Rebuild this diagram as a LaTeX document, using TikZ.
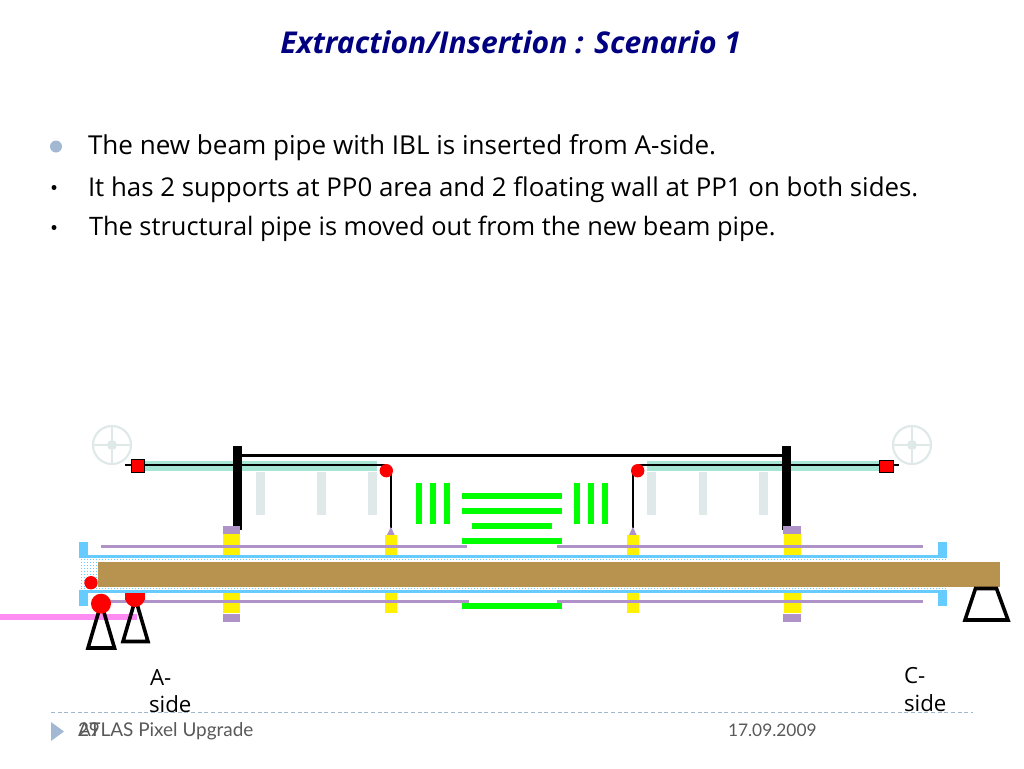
\documentclass[tikz,border=0pt]{standalone}
\usepackage{fontspec}
\setmainfont{Open Sans}
\newfontfamily\footfont{Lato}
\definecolor{navyt}{HTML}{000080}
\definecolor{wheelc}{HTML}{DFE9E9}
\definecolor{tealc}{HTML}{A6E4D3}
\definecolor{purp}{HTML}{AE92C8}
\definecolor{skyc}{HTML}{66CCFF}
\definecolor{brownc}{HTML}{B8924F}
\definecolor{pinkc}{HTML}{FF8CF2}
\definecolor{bulc}{HTML}{A3B9D3}
\definecolor{footc}{HTML}{595959}
\definecolor{dashc}{HTML}{A0B6CC}
\tikzset{
 x=0.75pt,y=-0.75pt,
 body/.style={inner sep=0,outer sep=0,anchor=base west,text=black},
 side/.style={inner sep=0,outer sep=0,anchor=base west,text=black,font=\fontsize{16.7}{18}\selectfont},
 foot/.style={inner sep=0,outer sep=0,anchor=base west,font=\footfont\fontsize{14.2}{16}\selectfont,text=footc},
 stand/.style={draw=black,line width=2.7pt,fill=none,miter limit=10},
 wheelline/.style={draw=wheelc,line width=1.6pt},
 dotrow/.style={draw=skyc,line width=0.75pt,dash pattern=on 0.75pt off 1.5pt}
}
\newcommand{\rectpx}[5]{\fill[#1] (#2,#3) rectangle (#4,#5);}
\begin{document}
\begin{tikzpicture}
\useasboundingbox (0,0) rectangle (1024,768);
\fill[white] (0,0) rectangle (1024,768);
% title and bullets
\node[inner sep=0,anchor=base west,text=navyt,font=\bfseries\itshape\fontsize{22.55}{24}\selectfont] (title) at (280,53) {Extraction/Insertion : Scenario 1};
\fill[bulc] (56,146.5) circle (6);
\fill[black] (54,187.5) circle (2.5);
\fill[black] (54,227.5) circle (2.5);
\node[body,font=\fontsize{19.55}{21}\selectfont] (b1) at (88,154) {The new beam pipe with IBL is inserted from A-side.};
\node[body,font=\fontsize{19.4}{21}\selectfont] (b2) at (88,196) {It has 2 supports at PP0 area and 2 floating wall at PP1 on both sides.};
\node[body,font=\fontsize{19.05}{21}\selectfont] (b3) at (89,235) {The structural pipe is moved out from the new beam pipe.};
% wheels
\foreach \cx in {112,912}{
 \draw[wheelline] (\cx,445) circle (19);
 \draw[wheelline] (\cx-19,445) -- (\cx+19,445);
 \draw[wheelline] (\cx,426) -- (\cx,464);
 \fill[wheelc] (\cx,445) circle (5);
}
% grey supports
\foreach \xa/\xb in {256.3/265,317/325.7,368/376.7,646.7/655.7,698.5/707,759.3/767.7}{
 \rectpx{wheelc}{\xa}{471.7}{\xb}{515}
}
% teal bars
\rectpx{tealc}{145}{460.7}{376.7}{470.7}
\rectpx{tealc}{646.7}{460.7}{880}{470.7}
% upper black lines
\draw[black,line width=1.5pt] (125,465.3) -- (386,465.3);
\draw[black,line width=1.5pt] (638,465.3) -- (899.3,465.3);
\draw[black,line width=2.3pt] (241,455.5) -- (783,455.5);
\rectpx{black}{233}{446}{241.7}{530}
\rectpx{black}{782.3}{446}{790.7}{530}
\draw[black,line width=0.5pt,fill=red] (131.3,459.5) rectangle (144.7,472.5);
\draw[black,line width=0.5pt,fill=red] (879.3,460) rectangle (893.3,472.7);
% hanging lines
\draw[black,line width=1.8pt] (390.7,470) -- (390.7,528);
\draw[black,line width=1.8pt] (632.7,470) -- (632.7,528);
\fill[purp] (387,535) -- (390.8,527) -- (394.7,535) -- cycle;
\fill[purp] (629,535) -- (632.8,527) -- (636.7,535) -- cycle;
\fill[red] (386.3,470.7) circle (6.7);
\fill[red] (637.7,470.7) circle (6.7);
% green
\foreach \xa/\xb in {416/422.3,430/436,444/450,573.7/580,587.7/594,601.7/608}{
 \rectpx{green}{\xa}{482.7}{\xb}{524}
}
\rectpx{green}{462.3}{492.7}{561.7}{499}
\rectpx{green}{462.3}{508}{561.7}{514}
\rectpx{green}{471.7}{523}{552.3}{529}
\rectpx{green}{462.3}{538}{561.7}{544.3}
% yellow and purple blocks
\rectpx{yellow}{223}{534}{240.3}{554.7}
\rectpx{yellow}{223}{593.3}{240.3}{613.3}
\rectpx{purp}{223}{526}{240.3}{534}
\rectpx{purp}{223}{614}{240.3}{622.3}
\rectpx{yellow}{784}{534}{801}{554.7}
\rectpx{yellow}{784}{593.3}{801}{613.3}
\rectpx{purp}{783.3}{526}{801}{534}
\rectpx{purp}{783.3}{614}{801}{622.3}
\rectpx{yellow}{385}{535}{397.3}{554.7}
\rectpx{yellow}{385}{593.3}{397.3}{612.7}
\rectpx{yellow}{626.7}{535}{639.3}{554.7}
\rectpx{yellow}{626.7}{593.3}{639.3}{612.7}
% purple lines
\rectpx{purp}{100.7}{545}{466.7}{548.3}
\rectpx{purp}{557}{545}{923}{548.3}
\rectpx{purp}{100}{600}{469.3}{603.3}
\rectpx{purp}{557}{600}{923}{603.3}
\rectpx{green}{462.3}{603.3}{561.7}{609.3}
% pipes
\rectpx{skyc}{79.3}{542.3}{87.7}{557.3}
\rectpx{skyc}{79.3}{590}{87.7}{605.7}
\rectpx{skyc}{938}{542.3}{946.7}{557.3}
\rectpx{skyc}{938}{590}{946.7}{605.7}
\rectpx{skyc}{79.3}{555}{946.7}{558.3}
\rectpx{skyc}{79.3}{590}{946.7}{593.3}
\draw[dotrow] (81,559.5) -- (946,559.5);
\draw[dotrow] (81,588.5) -- (946,588.5);
\foreach \yy in {562.5,565.5,...,586.5}{\draw[dotrow] (81,\yy) -- (98,\yy);}
\rectpx{brownc}{98}{561.7}{1000.3}{586.7}
% pink rod and stands
\rectpx{pinkc}{0}{614}{137}{620}
\draw[stand] (99.5,609) -- (88,648) -- (114.5,648) -- (103,609);
\draw[stand] (134,604) -- (123,641.5) -- (148,641.5) -- (137,604);
\draw[stand] (975.5,588.5) -- (965,620) -- (1008,620) -- (996.5,588.5) -- cycle;
% red parts
\fill[red] (101,603.7) circle (10);
\fill[red] (91,582.7) circle (6.7);
\fill[red] (125,597) arc (180:0:10) -- cycle;
\rectpx{red}{125}{592.7}{145}{600}
% labels
\node[side] (as1) at (150,685) {A-};
\node[side] (as2) at (149,712) {side};
\node[side] (cs1) at (904,683) {C-};
\node[side] (cs2) at (904,711) {side};
% footer
\draw[dashc,line width=0.6pt,dash pattern=on 3pt off 2pt] (51,712) -- (973,712);
\fill[bulc] (51,722) -- (64,731.5) -- (51,741) -- cycle;
\node[foot] (pg) at (78,736) {29};
\node[foot] (ft) at (78,736) {ATLAS Pixel Upgrade};
\node[foot,font=\footfont\fontsize{13}{16}\selectfont] (dt) at (728,736) {17.09.2009};
\end{tikzpicture}
\end{document}
